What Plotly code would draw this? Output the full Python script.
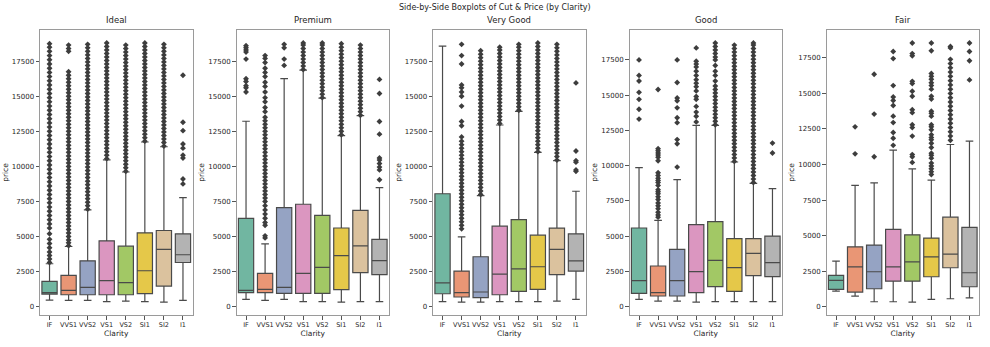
import plotly.graph_objects as go

# Clarity grades (x categories) and cut grades (one panel each)
clarity = ["IF", "VVS1", "VVS2", "VS1", "VS2", "SI1", "SI2", "I1"]
cuts = ["Ideal", "Premium", "Very Good", "Good", "Fair"]
y_ticks = [0, 2500, 5000, 7500, 10000, 12500, 15000, 17500]

# Set2 palette (desaturated like seaborn's boxplot default)
box_colors = ["#71b6a1", "#e99675", "#95a3c3", "#db96c0",
              "#a2c865", "#e5c849", "#dbc29e", "#b3b3b3"]

# ---- Ideal ----
ideal_q1 = [900, 850, 850, 850, 850, 925, 1470, 3150]
ideal_median = [1000, 1160, 1375, 1850, 1710, 2560, 4080, 3700]
ideal_q3 = [1800, 2230, 3270, 4695, 4315, 5265, 5430, 5190]
ideal_low = [470, 450, 450, 355, 400, 355, 330, 450]
ideal_high = [3060, 4290, 6900, 10460, 9600, 11740, 11400, 7780]
ideal_outliers = [
    [3150, 3400, 3650, 3900, 4200, 4500, 4800, 5200, 5600, 5900, 6200, 6500, 6800, 7100,
     7400, 7700, 8000, 8300, 8600, 8900, 9200, 9500, 9800, 10100, 10400, 10700, 11000,
     11300, 11600, 11900, 12200, 12500, 12800, 13100, 13400, 13700, 14000, 14300, 14600,
     14900, 15200, 15500, 15800, 16100, 16400, 16700, 17000, 17300, 17600, 17900, 18200,
     18500, 18750],
    [4350, 4550, 4750, 5000, 5250, 5500, 5750, 6000, 6250, 6500, 6750, 7000, 7250, 7500,
     7750, 8000, 8250, 8500, 8750, 9000, 9250, 9500, 9750, 10000, 10250, 10500, 10750,
     11000, 11250, 11500, 11750, 12000, 12250, 12500, 12750, 13000, 13250, 13500, 13750,
     14000, 14250, 14500, 14750, 15000, 15250, 15500, 15750, 16000, 16250, 16500, 16750,
     18200, 18400, 18650],
    [6950, 7200, 7450, 7700, 7950, 8200, 8450, 8700, 8950, 9200, 9450, 9700, 9950, 10200,
     10450, 10700, 10950, 11200, 11450, 11700, 11950, 12200, 12450, 12700, 12950, 13200,
     13450, 13700, 13950, 14200, 14450, 14700, 14950, 15200, 15450, 15700, 15950, 16200,
     16450, 16700, 16950, 17200, 17450, 17700, 17950, 18200, 18450, 18700],
    [10550, 10800, 11050, 11300, 11550, 11800, 12050, 12300, 12550, 12800, 13050, 13300,
     13550, 13800, 14050, 14300, 14550, 14800, 15050, 15300, 15550, 15800, 16050, 16300,
     16550, 16800, 17050, 17300, 17550, 17800, 18050, 18300, 18550, 18800],
    [9650, 9900, 10150, 10400, 10650, 10900, 11150, 11400, 11650, 11900, 12150, 12400,
     12650, 12900, 13150, 13400, 13650, 13900, 14150, 14400, 14650, 14900, 15150, 15400,
     15650, 15900, 16150, 16400, 16650, 16900, 17150, 17400, 17650, 17900, 18150, 18400,
     18650],
    [11800, 12050, 12300, 12550, 12800, 13050, 13300, 13550, 13800, 14050, 14300, 14550,
     14800, 15050, 15300, 15550, 15800, 16050, 16300, 16550, 16800, 17050, 17300, 17550,
     17800, 18050, 18300, 18550, 18800],
    [11450, 11700, 11950, 12200, 12450, 12700, 12950, 13200, 13450, 13700, 13950, 14200,
     14450, 14700, 14950, 15200, 15450, 15700, 15950, 16200, 16450, 16700, 16950, 17200,
     17450, 17700, 17950, 18200, 18450, 18700],
    [16500, 13150, 12550, 11600, 11300, 10800, 10600, 9100, 8750],
]

# ---- Premium ----
premium_q1 = [1000, 1000, 950, 950, 950, 1210, 2425, 2280]
premium_median = [1165, 1235, 1380, 2380, 2805, 3640, 4330, 3280]
premium_q3 = [6300, 2380, 7060, 7300, 6515, 5610, 6870, 4800]
premium_low = [520, 450, 520, 356, 356, 330, 356, 356]
premium_high = [13220, 4480, 16260, 16860, 14860, 12200, 13620, 8490]
premium_outliers = [
    [18600, 18450, 18300, 18150, 17650, 16250, 16050, 15750, 15600, 15300],
    [4900, 5050, 5800, 6000, 6300, 6600, 6900, 7200, 7500, 7750, 8000, 8250, 8500, 8750,
     9000, 9250, 9500, 9750, 10000, 10250, 10500, 10750, 11000, 11250, 11500, 11750,
     12000, 12250, 12500, 12750, 13000, 13250, 13500, 13900, 14200, 14600, 14900, 15300,
     15700, 16000, 16400, 16700, 17000, 17400, 17700, 17900],
    [18700, 18450, 17650, 17200],
    [16900, 17150, 17400, 17650, 17900, 18150, 18400, 18650, 18800],
    [14900, 15150, 15400, 15650, 15900, 16150, 16400, 16650, 16900, 17150, 17400, 17650,
     17900, 18150, 18400, 18650, 18800],
    [12250, 12500, 12750, 13000, 13250, 13500, 13750, 14000, 14250, 14500, 14750, 15000,
     15250, 15500, 15750, 16000, 16250, 16500, 16750, 17000, 17250, 17500, 17750, 18000,
     18250, 18500, 18750],
    [13650, 13900, 14150, 14400, 14650, 14900, 15150, 15400, 15650, 15900, 16150, 16400,
     16650, 16900, 17150, 17400, 17650, 17900, 18150, 18400, 18650],
    [16200, 15200, 13200, 12300, 10600, 10450, 10200, 9950, 9750, 9050],
]

# ---- Very Good ----
verygood_q1 = [920, 690, 640, 850, 1090, 1230, 2280, 2540]
verygood_median = [1700, 1000, 1045, 2320, 2700, 2845, 4080, 3270]
verygood_q3 = [8050, 2540, 3560, 5740, 6210, 5100, 5600, 5190]
verygood_low = [356, 330, 330, 356, 356, 356, 400, 520]
verygood_high = [18570, 4980, 7920, 12950, 13920, 11000, 10410, 8230]
verygood_outliers = [
    [],
    [5550, 5800, 6050, 6300, 6550, 6800, 7050, 7300, 7550, 7800, 8050, 8300, 8550, 8800,
     9050, 9300, 9550, 9800, 10050, 10300, 10550, 10800, 11050, 11300, 11550, 11800,
     12100, 12900, 13200, 14300, 15000, 15300, 15600, 15800, 17300, 17900, 18700],
    [8000, 8250, 8500, 8750, 9000, 9250, 9500, 9750, 10000, 10250, 10500, 10750, 11000,
     11250, 11500, 11750, 12000, 12250, 12500, 12750, 13000, 13250, 13500, 13750, 14000,
     14250, 14500, 14750, 15000, 15250, 15500, 15750, 16000, 16250, 16500, 16750, 17000,
     17250, 17500, 17750, 18000, 18250],
    [13050, 13300, 13550, 13800, 14050, 14300, 14550, 14800, 15050, 15300, 15550, 15800,
     16050, 16300, 16550, 16800, 17050, 17300, 17550, 17800, 18050, 18300, 18500],
    [14000, 14250, 14500, 14750, 15000, 15250, 15500, 15750, 16000, 16250, 16500, 16750,
     17000, 17250, 17500, 17750, 18000, 18250, 18500, 18700],
    [11050, 11300, 11550, 11800, 12050, 12300, 12550, 12800, 13050, 13300, 13550, 13800,
     14050, 14300, 14550, 14800, 15050, 15300, 15550, 15800, 16050, 16300, 16550, 16800,
     17050, 17300, 17550, 17800, 18050, 18300, 18550, 18800],
    [10450, 10700, 10950, 11200, 11450, 11700, 11950, 12200, 12450, 12700, 12950, 13200,
     13450, 13700, 13950, 14200, 14450, 14700, 14950, 15200, 15450, 15700, 15950, 16200,
     16450, 16700, 16950, 17200, 17450, 17700, 17950, 18200, 18450, 18700],
    [15950, 11100, 10400, 10300, 9750, 9650],
]

# ---- Good ----
good_q1 = [945, 757, 757, 993, 1420, 1090, 2200, 2130]
good_median = [1845, 993, 1845, 2480, 3290, 2770, 3780, 3120]
good_q3 = [5580, 2885, 4070, 5820, 6030, 4820, 4820, 5010]
good_low = [520, 400, 400, 330, 355, 355, 355, 355]
good_high = [9860, 6125, 9010, 12860, 12860, 10260, 8750, 8370]
good_outliers = [
    [17500, 16400, 16000, 15200, 14700, 14000, 13300],
    [15400, 11200, 11050, 10900, 10750, 10600, 10350, 9500, 9300, 9100, 8950, 8800, 8600,
     8300, 8150, 8000, 7800, 7600, 7350, 7150, 6950, 6700, 6500, 6350],
    [17500, 15900, 14800, 14600, 14100, 13400, 13050, 11850, 11550, 9900],
    [18350, 17400, 17200, 17000, 16700, 16400, 16100, 15850, 15600, 15300, 14900, 14700,
     14200, 13800, 13500, 13100],
    [12900, 13150, 13400, 13650, 13900, 14150, 14400, 14650, 14900, 15150, 15400, 15650,
     16000, 16400, 16700, 17100, 17500, 17700, 17950, 18200, 18450, 18700],
    [10300, 10550, 10800, 11050, 11300, 11550, 11800, 12050, 12300, 12550, 12800, 13050,
     13300, 13550, 13800, 14050, 14300, 14550, 14800, 15050, 15300, 15550, 15800, 16050,
     16300, 16550, 16800, 17050, 17300, 17550, 17800, 18050, 18300, 18550],
    [8800, 9050, 9300, 9550, 9800, 10050, 10300, 10550, 10800, 11050, 11300, 11550, 11800,
     12050, 12300, 12550, 12800, 13050, 13300, 13550, 13800, 14050, 14300, 14550, 14800,
     15050, 15300, 15550, 15800, 16050, 16300, 16550, 16800, 17050, 17300, 17550, 17800,
     18050, 18300, 18550, 18700],
    [11600, 10900],
]

# ---- Fair ----
fair_q1 = [1220, 1030, 1265, 1800, 1800, 2110, 2740, 1405]
fair_median = [1850, 2810, 2460, 2810, 3160, 3510, 3700, 2390]
fair_q3 = [2200, 4215, 4335, 5435, 5060, 4830, 6300, 5575]
fair_low = [1100, 750, 350, 350, 330, 515, 560, 630]
fair_high = [3210, 8530, 8715, 11010, 9700, 8900, 11410, 11640]
fair_outliers = [
    [],
    [12650, 10750],
    [16350, 13550, 10550],
    [17950, 17450, 15550, 14750, 14500, 14150, 13400, 12950, 12250, 11850, 11350],
    [18550, 17800, 17650, 15850, 15700, 15150, 14800, 13850, 13650, 12800, 12600, 12000,
     10700, 10550, 10150],
    [18550, 18000, 16400, 16200, 16000, 15750, 15550, 15300, 14800, 14600, 13750, 13600,
     13400, 12800, 12650, 12450, 12100, 11900, 11750, 11500, 11200, 10800, 10650, 10450,
     10100, 9900, 9700, 9500, 9300],
    [18300, 18200, 17400, 17100, 16800, 16500, 16200, 15900, 15600, 15300, 15000, 14700,
     14400, 14100, 13800, 13500, 13200, 12900, 12600, 12300, 12000, 11700],
    [18550, 17950, 17300, 15950],
]

panels = [
    (ideal_q1, ideal_median, ideal_q3, ideal_low, ideal_high, ideal_outliers),
    (premium_q1, premium_median, premium_q3, premium_low, premium_high, premium_outliers),
    (verygood_q1, verygood_median, verygood_q3, verygood_low, verygood_high, verygood_outliers),
    (good_q1, good_median, good_q3, good_low, good_high, good_outliers),
    (fair_q1, fair_median, fair_q3, fair_low, fair_high, fair_outliers),
]

W, H = 990, 347
panel_left = [40, 236.5, 433, 629.5, 826.5]
panel_width = 152.5
plot_top, plot_bottom = 30, 315

FONT = "DejaVu Sans"
LINE = "#4a4a4a"

fig = go.Figure()
layout = dict(
    width=W, height=H, margin=dict(l=0, r=0, t=0, b=0),
    paper_bgcolor="white", plot_bgcolor="white",
    showlegend=False, boxmode="overlay",
    font=dict(family=FONT, color="#262626", size=7),
)
annotations = []

for i, (cut, (q1, med, q3, low, high, outl)) in enumerate(zip(cuts, panels)):
    n = i + 1
    xa = "x" if n == 1 else f"x{n}"
    ya = "y" if n == 1 else f"y{n}"
    for j, c in enumerate(clarity):
        fig.add_trace(go.Box(
            x=[c], q1=[q1[j]], median=[med[j]], q3=[q3[j]],
            lowerfence=[low[j]], upperfence=[high[j]],
            xaxis=xa, yaxis=ya, width=0.8, whiskerwidth=0.5,
            fillcolor=box_colors[j], line=dict(color=LINE, width=1.2),
            boxpoints=False, hoverinfo="y",
        ))
        if outl[j]:
            fig.add_trace(go.Scatter(
                x=[c] * len(outl[j]), y=outl[j], mode="markers",
                xaxis=xa, yaxis=ya, hoverinfo="y",
                marker=dict(symbol="diamond", size=4.5, color="#3d3d3d",
                            line=dict(width=0)),
            ))

    # axis range: data extent padded by 5%
    all_vals = low + high + [v for grp in outl for v in grp]
    lo, hi = min(all_vals), max(all_vals)
    pad = 0.05 * (hi - lo)

    x0 = panel_left[i] / W
    x1 = (panel_left[i] + panel_width) / W
    y0 = 1 - plot_bottom / H
    y1 = 1 - plot_top / H
    axis_common = dict(
        showline=True, mirror=True, linecolor="#9a9a9a", linewidth=1,
        ticks="outside", ticklen=3.5, tickwidth=1, tickcolor="#555555",
        showgrid=False, zeroline=False, automargin=False,
    )
    layout["xaxis" if n == 1 else f"xaxis{n}"] = dict(
        axis_common, domain=[x0, x1], anchor=ya, type="category",
        categoryorder="array", categoryarray=clarity, range=[-0.5, 7.5],
        tickangle=0, tickfont=dict(family=FONT, size=6.5, color="#262626"),
        title=dict(text="Clarity", font=dict(family=FONT, size=7.5), standoff=2),
    )
    layout["yaxis" if n == 1 else f"yaxis{n}"] = dict(
        axis_common, domain=[y0, y1], anchor=xa,
        range=[lo - pad, hi + pad], tickmode="array",
        tickvals=y_ticks, ticktext=[str(t) for t in y_ticks],
        tickfont=dict(family=FONT, size=7, color="#262626"),
        title=dict(text="price", font=dict(family=FONT, size=7.5), standoff=2),
    )
    annotations.append(dict(
        text=cut, x=(x0 + x1) / 2, y=y1, xref="paper", yref="paper",
        xanchor="center", yanchor="bottom", yshift=3, showarrow=False,
        font=dict(family=FONT, size=8.5, color="#262626"),
    ))

annotations.append(dict(
    text="Side-by-Side Boxplots of Cut & Price (by Clarity)",
    x=0.5, y=1 - 8 / H, xref="paper", yref="paper",
    xanchor="center", yanchor="middle", showarrow=False,
    font=dict(family=FONT, size=8, color="#262626"),
))
layout["annotations"] = annotations
fig.update_layout(**layout)

fig.write_html("out.html")
